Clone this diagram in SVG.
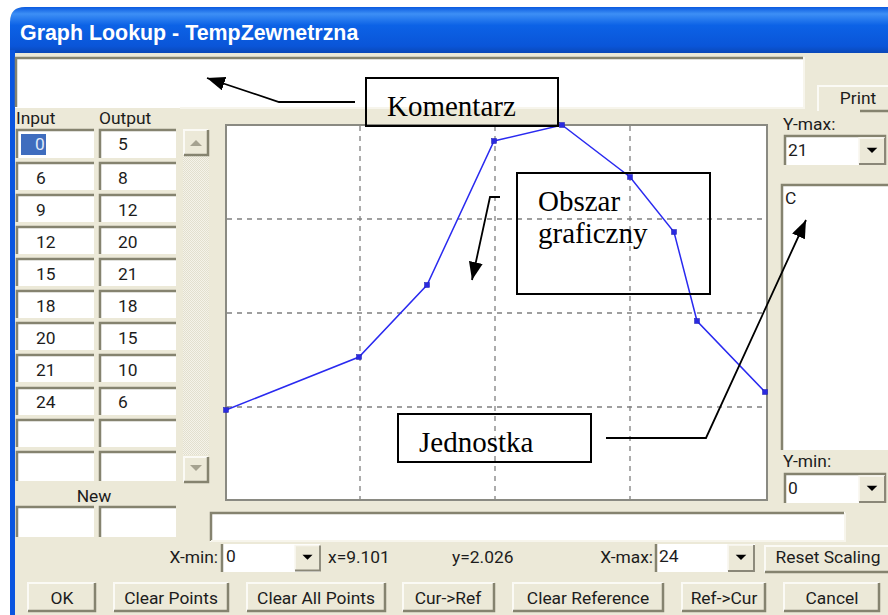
<svg xmlns="http://www.w3.org/2000/svg" width="888" height="615" viewBox="0 0 888 615">
<defs>
<linearGradient id="tb" x1="0" y1="0" x2="0" y2="1"><stop offset="0" stop-color="#0a5ae0"/><stop offset="0.15" stop-color="#3d8ff5"/><stop offset="0.4" stop-color="#0c62e6"/><stop offset="0.85" stop-color="#0a55d8"/><stop offset="1" stop-color="#0a48b8"/></linearGradient>
<pattern id="dither" width="2" height="2" patternUnits="userSpaceOnUse"><rect width="2" height="2" fill="#f5f3ea"/><rect width="1" height="1" fill="#e2dfce"/><rect x="1" y="1" width="1" height="1" fill="#e2dfce"/></pattern>
<marker id="ah" viewBox="0 0 10 10" refX="10" refY="5" markerWidth="18" markerHeight="14" markerUnits="userSpaceOnUse" orient="auto" preserveAspectRatio="none"><path d="M0 0L10 5L0 10Z" fill="#000"/></marker>
<symbol id="down" viewBox="0 0 27 27" overflow="visible"><rect x="0.5" y="0.5" width="26" height="26" fill="#ece9d8" stroke="none"/><path d="M0 27V0H27" fill="none" stroke="#f8f6ee" stroke-width="1.5"/><path d="M0 27H27V0" fill="none" stroke="#8a8778" stroke-width="2"/><path d="M8 10H19L13.500 15.500Z" fill="#000"/></symbol>
</defs>
<style>
text{font-family:Roboto,"Liberation Sans",Arial,sans-serif;font-size:17.4px;fill:#1c1c1c}
.cell{fill:#fff;stroke:none}
.edge{fill:none;stroke:#85836f;stroke-width:2.5}
.hi{fill:none;stroke:#f7f5ec;stroke-width:2}
.btn{fill:#ece9d8}
.bh{fill:none;stroke:#fbfaf5;stroke-width:2}
.bs{fill:none;stroke:#85836f;stroke-width:2.5}
.m{text-anchor:middle}
.grid{stroke:#808080;stroke-width:1.3;stroke-dasharray:5 5;fill:none}
.note{fill:none;stroke:#000;stroke-width:2}
.nt{font-family:"Liberation Serif","Times New Roman",serif;font-size:29px;fill:#000}
.arrow{fill:none;stroke:#000;stroke-width:1.8;marker-end:url(#ah)}
.pt{fill:#2a2ae0;stroke:#1a1ab0;stroke-width:.5}
</style>
<rect width="888" height="615" fill="#fff"/>
<g id="window">
<path d="M10 615V22Q10 7 25 7H888V615Z" fill="#ece9d8"/>
<path d="M10 22Q10 7 25 7H888V53H10Z" fill="url(#tb)"/>
<rect x="10" y="50" width="5" height="565" fill="#0a55e0"/>
<text x="20" y="40" style="font-family:'Liberation Sans',Arial,sans-serif;font-size:21.4px;font-weight:bold;fill:#fff">Graph Lookup - TempZewnetrzna</text>
</g>
<g id="comment-box">
<rect class="cell" x="15" y="57" width="788" height="51"/>
<path class="edge" d="M16 107V58H803"/>
<path class="hi" d="M180 108H804V57"/>
</g>
<g id="table">
<text x="16" y="124">Input</text>
<text x="99" y="124">Output</text>
<g id="row-0"><path class="cell" d="M17 130H94V158H17ZM100 130H176V158H100Z"/><path class="edge" d="M17 158V130H94M100 158V130H176"/><rect x="21" y="134" width="25" height="21" fill="#3f6dbe"/><text x="35" y="150" style="fill:#dfe8f8">0</text><text x="118" y="150">5</text></g>
<g id="row-1"><path class="cell" d="M17 163H94V190H17ZM100 163H176V190H100Z"/><path class="edge" d="M17 190V163H94M100 190V163H176"/><text x="36" y="184">6</text><text x="118" y="184">8</text></g>
<g id="row-2"><path class="cell" d="M17 195H94V222H17ZM100 195H176V222H100Z"/><path class="edge" d="M17 222V195H94M100 222V195H176"/><text x="36" y="216">9</text><text x="118" y="216">12</text></g>
<g id="row-3"><path class="cell" d="M17 227H94V254H17ZM100 227H176V254H100Z"/><path class="edge" d="M17 254V227H94M100 254V227H176"/><text x="36" y="248">12</text><text x="118" y="248">20</text></g>
<g id="row-4"><path class="cell" d="M17 259H94V286H17ZM100 259H176V286H100Z"/><path class="edge" d="M17 286V259H94M100 286V259H176"/><text x="36" y="280">15</text><text x="118" y="280">21</text></g>
<g id="row-5"><path class="cell" d="M17 291H94V318H17ZM100 291H176V318H100Z"/><path class="edge" d="M17 318V291H94M100 318V291H176"/><text x="36" y="312">18</text><text x="118" y="312">18</text></g>
<g id="row-6"><path class="cell" d="M17 323H94V350H17ZM100 323H176V350H100Z"/><path class="edge" d="M17 350V323H94M100 350V323H176"/><text x="36" y="344">20</text><text x="118" y="344">15</text></g>
<g id="row-7"><path class="cell" d="M17 355H94V382H17ZM100 355H176V382H100Z"/><path class="edge" d="M17 382V355H94M100 382V355H176"/><text x="36" y="376">21</text><text x="118" y="376">10</text></g>
<g id="row-8"><path class="cell" d="M17 388H94V415H17ZM100 388H176V415H100Z"/><path class="edge" d="M17 415V388H94M100 415V388H176"/><text x="36" y="408">24</text><text x="118" y="408">6</text></g>
<g id="row-9"><path class="cell" d="M17 420H94V447H17ZM100 420H176V447H100Z"/><path class="edge" d="M17 447V420H94M100 447V420H176"/></g>
<g id="row-10"><path class="cell" d="M17 452H94V481H17ZM100 452H176V481H100Z"/><path class="edge" d="M17 481V452H94M100 481V452H176"/></g>
<text x="94" y="502" class="m">New</text>
<g id="row-new"><path class="cell" d="M17 507H94V537H17ZM100 507H176V537H100Z"/><path class="edge" d="M17 537V507H94M100 537V507H176"/></g>
</g>
<g id="scrollbar">
<rect x="183" y="129" width="26" height="326" fill="url(#dither)"/>
<rect x="183" y="129" width="26" height="26" class="btn"/><path class="bh" d="M184 155V130H208"/><path class="bs" d="M184 155H208V130"/><path d="M190 146H202L196 140Z" fill="#a5a290"/>
<rect x="183" y="456" width="26" height="26" class="btn"/><path class="bh" d="M184 482V457H208"/><path class="bs" d="M184 482H208V457"/><path d="M190 465H202L196 471Z" fill="#a5a290"/>
</g>
<g id="graph-area">
<rect x="226" y="125" width="541" height="375" fill="#fff" stroke="#8a8a82" stroke-width="2"/>
<path class="grid" d="M360 126V499M495 126V499M630 126V499M227 219H766M227 313H766M227 407H766"/>
<polyline points="226,410 359,357 427,285 494,141 562,125 630,177 674,232 697,321 765,392" fill="none" stroke="#2a2af0" stroke-width="1.5"/>
<g>
<rect class="pt" x="223.500" y="407.500" width="5" height="5"/><rect class="pt" x="356.500" y="354.500" width="5" height="5"/><rect class="pt" x="424.500" y="282.500" width="5" height="5"/><rect class="pt" x="491.500" y="138.500" width="5" height="5"/><rect class="pt" x="559.500" y="122.500" width="5" height="5"/><rect class="pt" x="627.500" y="174.500" width="5" height="5"/><rect class="pt" x="671.500" y="229.500" width="5" height="5"/><rect class="pt" x="694.500" y="318.500" width="5" height="5"/><rect class="pt" x="762.500" y="389.500" width="5" height="5"/>
</g>
</g>
<g id="right-panel">
<g id="print-btn"><rect x="817" y="85" width="71" height="27" class="btn"/><path class="bh" d="M818 111V86H888"/><path class="bs" d="M860 111H888"/><text x="858" y="104" class="m">Print</text></g>
<text x="783" y="130">Y-max:</text>
<g id="ymax"><rect class="cell" x="784" y="135" width="101" height="30"/><path class="edge" d="M785 165V136H885V165"/><use href="#down" x="859" y="138" width="26" height="26"/><text x="788" y="156">21</text></g>
<g id="unit"><rect class="cell" x="781" y="184" width="107" height="266"/><path class="edge" d="M782 450V185H888"/><text x="785" y="204">C</text></g>
<text x="783" y="467">Y-min:</text>
<g id="ymin"><rect class="cell" x="784" y="473" width="101" height="30"/><path class="edge" d="M785 503V474H885V503"/><use href="#down" x="859" y="476" width="26" height="26"/><text x="788" y="494">0</text></g>
</g>
<g id="status"><rect class="cell" x="210" y="512" width="635" height="30"/><path class="edge" d="M211 541V513H844"/><path class="hi" d="M211 541H845V513"/></g>
<g id="scale-row">
<text x="218" y="563" style="text-anchor:end">X-min:</text>
<g id="xmin"><rect class="cell" x="221" y="544" width="99" height="28"/><path class="edge" d="M222 572V544"/><use href="#down" x="295" y="545" width="25" height="26"/><text x="226" y="562">0</text></g>
<text x="328" y="563">x=9.101</text>
<text x="452" y="563">y=2.026</text>
<text x="653" y="563" style="text-anchor:end">X-max:</text>
<g id="xmax"><rect class="cell" x="655" y="544" width="100" height="28"/><path class="edge" d="M656 572V544"/><use href="#down" x="728" y="545" width="26" height="26"/><text x="659" y="562">24</text></g>
<g id="reset"><rect x="764" y="545" width="124" height="28" class="btn"/><path class="bh" d="M765 572V546H888"/><path class="bs" d="M765 572H888"/><text x="828" y="563" class="m">Reset Scaling</text></g>
</g>
<g id="buttons">
<g id="btn-ok"><rect x="27" y="582" width="69" height="30" class="btn"/><path class="bh" d="M28 611V583H95"/><path class="bs" d="M28 611H95V583"/><text x="62" y="604" class="m">OK</text></g>
<g id="btn-clear-points"><rect x="113" y="582" width="116" height="30" class="btn"/><path class="bh" d="M114 611V583H228"/><path class="bs" d="M114 611H228V583"/><text x="171" y="604" class="m">Clear Points</text></g>
<g id="btn-clear-all"><rect x="246" y="582" width="140" height="30" class="btn"/><path class="bh" d="M247 611V583H385"/><path class="bs" d="M247 611H385V583"/><text x="316" y="604" class="m">Clear All Points</text></g>
<g id="btn-cur-ref"><rect x="402" y="582" width="93" height="30" class="btn"/><path class="bh" d="M403 611V583H494"/><path class="bs" d="M403 611H494V583"/><text x="448" y="604" class="m">Cur-&gt;Ref</text></g>
<g id="btn-clear-ref"><rect x="512" y="582" width="152" height="30" class="btn"/><path class="bh" d="M513 611V583H663"/><path class="bs" d="M513 611H663V583"/><text x="588" y="604" class="m">Clear Reference</text></g>
<g id="btn-ref-cur"><rect x="681" y="582" width="85" height="30" class="btn"/><path class="bh" d="M682 611V583H765"/><path class="bs" d="M682 611H765V583"/><text x="724" y="604" class="m">Ref-&gt;Cur</text></g>
<g id="btn-cancel"><rect x="783" y="582" width="97" height="30" class="btn"/><path class="bh" d="M784 611V583H879"/><path class="bs" d="M784 611H879V583"/><text x="832" y="604" class="m">Cancel</text></g>
</g>
<g id="connectors">
<polyline class="arrow" points="355,102 279,102 207,78"/>
<polyline class="arrow" points="500,197 490,197 472,280"/>
<polyline class="arrow" points="606,438 706,438 806,220"/>
</g>
<g id="note-komentarz"><rect class="note" x="366" y="78" width="192" height="48"/><text class="nt" x="387" y="116">Komentarz</text></g>
<g id="note-obszar"><rect class="note" x="517" y="173" width="193" height="121"/><text class="nt" x="538" y="211">Obszar</text><text class="nt" x="538" y="243">graficzny</text></g>
<g id="note-jednostka"><rect class="note" x="398" y="414" width="193" height="48"/><text class="nt" x="419" y="452">Jednostka</text></g>
</svg>
